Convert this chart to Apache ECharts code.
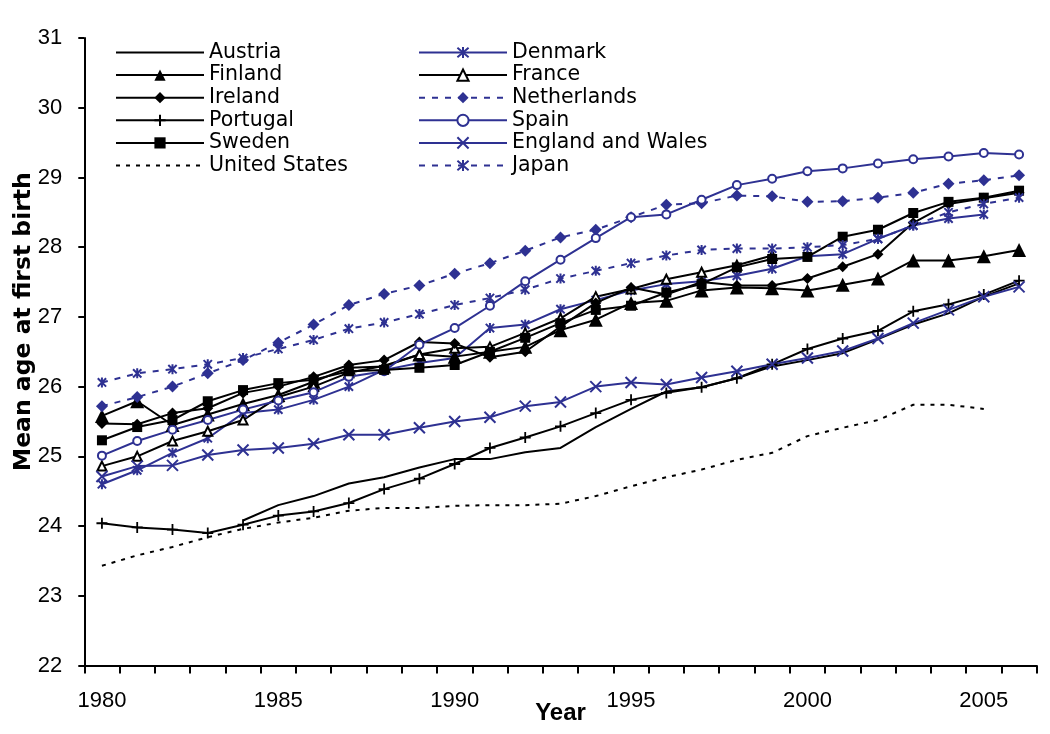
<!DOCTYPE html>
<html><head><meta charset="utf-8">
<script src="https://cdn.jsdelivr.net/npm/echarts@6/dist/echarts.min.js"></script>
<style>html,body{margin:0;padding:0;background:#fff}#c{width:1050px;height:734px}</style>
</head><body><div id="c"></div>
<script>
const years = ['1980','1981','1982','1983','1984','1985','1986','1987','1988','1989','1990','1991','1992','1993','1994','1995','1996','1997','1998','1999','2000','2001','2002','2003','2004','2005','2006'];
const yTicks = {min: 22, max: 31, step: 1};

const austria = [null,null,null,null,24.08,24.30,24.43,24.61,24.70,24.84,24.96,24.96,25.06,25.12,25.42,25.68,25.93,25.99,26.12,26.29,26.38,26.48,26.68,26.89,27.05,27.29,27.48];
const denmark = [24.60,24.80,25.05,25.26,25.62,25.67,25.81,26.00,26.24,26.34,26.41,26.84,26.89,27.11,27.24,27.38,27.47,27.51,27.59,27.69,27.87,27.90,28.12,28.31,28.41,28.47,null];
const finland = [25.58,25.79,25.45,25.60,25.75,25.88,26.07,26.27,26.29,26.46,26.43,26.50,26.57,26.81,26.96,27.20,27.23,27.38,27.42,27.41,27.38,27.46,27.55,27.81,27.81,27.87,27.96];
const france = [24.86,25.00,25.22,25.36,25.52,25.85,26.00,26.20,26.30,26.46,26.55,26.57,26.77,26.98,27.29,27.40,27.54,27.64,27.74,27.88,null,null,null,null,null,null,null];
const ireland = [25.47,25.46,25.62,25.69,25.91,26.00,26.14,26.31,26.38,26.64,26.62,26.42,26.50,26.86,27.20,27.42,27.32,27.50,27.45,27.45,27.55,27.72,27.90,28.35,28.62,28.70,28.78];
const netherlands = [25.72,25.85,26.00,26.19,26.38,26.63,26.89,27.17,27.33,27.45,27.62,27.77,27.95,28.14,28.25,28.43,28.61,28.63,28.74,28.73,28.65,28.66,28.71,28.78,28.91,28.96,29.03];
const portugal = [24.04,23.98,23.95,23.90,24.02,24.15,24.21,24.33,24.53,24.68,24.89,25.12,25.27,25.43,25.62,25.81,25.91,25.99,26.12,26.32,26.54,26.69,26.80,27.08,27.18,27.32,27.52];
const spain = [25.01,25.22,25.38,25.52,25.67,25.80,25.92,26.14,26.22,26.60,26.84,27.16,27.51,27.82,28.13,28.43,28.47,28.68,28.89,28.98,29.09,29.13,29.20,29.26,29.30,29.35,29.33];
const sweden = [25.23,25.42,25.52,25.79,25.95,26.05,26.10,26.22,26.24,26.27,26.31,26.50,26.70,26.91,27.10,27.16,27.35,27.47,27.71,27.83,27.86,28.15,28.25,28.49,28.65,28.71,28.81];
const englandWales = [24.71,24.86,24.87,25.02,25.09,25.12,25.18,25.31,25.31,25.41,25.50,25.56,25.72,25.78,26.00,26.06,26.03,26.13,26.22,26.32,26.41,26.51,26.69,26.91,27.10,27.29,27.43];
const unitedStates = [23.43,23.58,23.70,23.84,23.96,24.05,24.12,24.22,24.26,24.26,24.29,24.30,24.30,24.32,24.43,24.57,24.70,24.81,24.95,25.05,25.29,25.41,25.52,25.74,25.74,25.68,null];
const japan = [26.06,26.19,26.25,26.32,26.41,26.54,26.67,26.83,26.92,27.04,27.17,27.27,27.39,27.55,27.66,27.77,27.88,27.96,27.98,27.98,28.00,28.03,28.12,28.31,28.50,28.62,28.71];

const legendLeft = ['Austria','Finland','Ireland','Portugal','Sweden','United States'];
const legendRight = ['Denmark','France','Netherlands','Spain','England and Wales','Japan'];
const noMarker = ['Austria','United States'];

const BLACK = '#000000';
const NAVY = '#2E3192';
const PLUS = 'path://M5,0L5,10M0,5L10,5';
const CROSS = 'path://M0,0L10,10M10,0L0,10';
const STAR = 'path://M0,0L10,10M10,0L0,10M5,-1L5,11';
const ARIAL = '"Liberation Sans", Arial, sans-serif';
const DEJAVU = '"DejaVu Sans", sans-serif';

function mk(name, data, color, symbol, size, opts) {
  opts = opts || {};
  return {
    name: name, type: 'line', data: data,
    symbol: symbol, symbolSize: size, showAllSymbol: true, symbolKeepAspect: true,
    lineStyle: {color: color, width: 2, type: opts.dash || 'solid'},
    itemStyle: {color: opts.fill || color, borderColor: color, borderWidth: opts.bw == null ? 0 : opts.bw},
    emphasis: {disabled: true}
  };
}

const series = [
  mk('Austria', austria, BLACK, 'none', 0),
  mk('Denmark', denmark, NAVY, STAR, 10, {bw: 2}),
  mk('Finland', finland, BLACK, 'triangle', 14),
  mk('France', france, BLACK, 'emptyTriangle', 9, {bw: 1.6}),
  mk('Ireland', ireland, BLACK, 'diamond', 11),
  mk('Netherlands', netherlands, NAVY, 'diamond', 12, {dash: [6, 7]}),
  mk('Portugal', portugal, BLACK, PLUS, 11, {bw: 1.8}),
  mk('Spain', spain, NAVY, 'emptyCircle', 8, {bw: 1.6}),
  mk('Sweden', sweden, BLACK, 'rect', 10),
  mk('England and Wales', englandWales, NAVY, CROSS, 11, {bw: 2}),
  mk('United States', unitedStates, BLACK, 'none', 0, {dash: [4, 6]}),
  mk('Japan', japan, NAVY, STAR, 10, {bw: 2, dash: [6, 7]})
];

function legendData(names) {
  return names.map(n => noMarker.indexOf(n) >= 0 ? {name: n, itemStyle: {opacity: 0}} : {name: n});
}

const legendText = {fontSize: 20.5, fontFamily: DEJAVU, color: '#000', lineHeight: 20};
const chart = echarts.init(document.getElementById('c'), null, {renderer: 'canvas'});
chart.setOption({
  animation: false,
  backgroundColor: '#fff',
  grid: {left: 84.3, right: 13.3, top: 38, bottom: 68.5, containLabel: false, outerBoundsMode: 'none'},
  legend: [
    {data: legendData(legendLeft), orient: 'vertical', left: 110, top: 37, itemWidth: 88, itemHeight: 14, itemGap: 1.6, textStyle: legendText, selectedMode: false},
    {data: legendData(legendRight), orient: 'vertical', left: 413, top: 37, itemWidth: 88, itemHeight: 14, itemGap: 1.6, textStyle: legendText, selectedMode: false}
  ],
  xAxis: {
    type: 'category', data: years, boundaryGap: true,
    name: 'Year', nameLocation: 'middle', nameGap: 36, nameMoveOverlap: false,
    nameTextStyle: {fontSize: 24, fontWeight: 'bold', fontFamily: ARIAL, color: '#000'},
    axisLine: {lineStyle: {color: '#000', width: 2}},
    axisTick: {show: true, interval: 0, length: 8, lineStyle: {color: '#000', width: 2}},
    axisLabel: {interval: 4, fontSize: 22, fontFamily: ARIAL, color: '#000', margin: 24},
    splitLine: {show: false}
  },
  yAxis: {
    type: 'value', min: yTicks.min, max: yTicks.max, interval: yTicks.step,
    name: 'Mean age at first birth', nameLocation: 'middle', nameGap: 48, nameRotate: 90, nameMoveOverlap: false,
    nameTextStyle: {fontSize: 23.5, fontWeight: 'bold', fontFamily: DEJAVU, color: '#000', padding: [0, 0, 0, 60]},
    axisLine: {show: true, lineStyle: {color: '#000', width: 2}},
    axisTick: {show: true, length: 6, lineStyle: {color: '#000', width: 2}},
    axisLabel: {fontSize: 22, fontFamily: ARIAL, color: '#000', margin: 22},
    splitLine: {show: false}
  },
  series: series
});
</script>
</body></html>
